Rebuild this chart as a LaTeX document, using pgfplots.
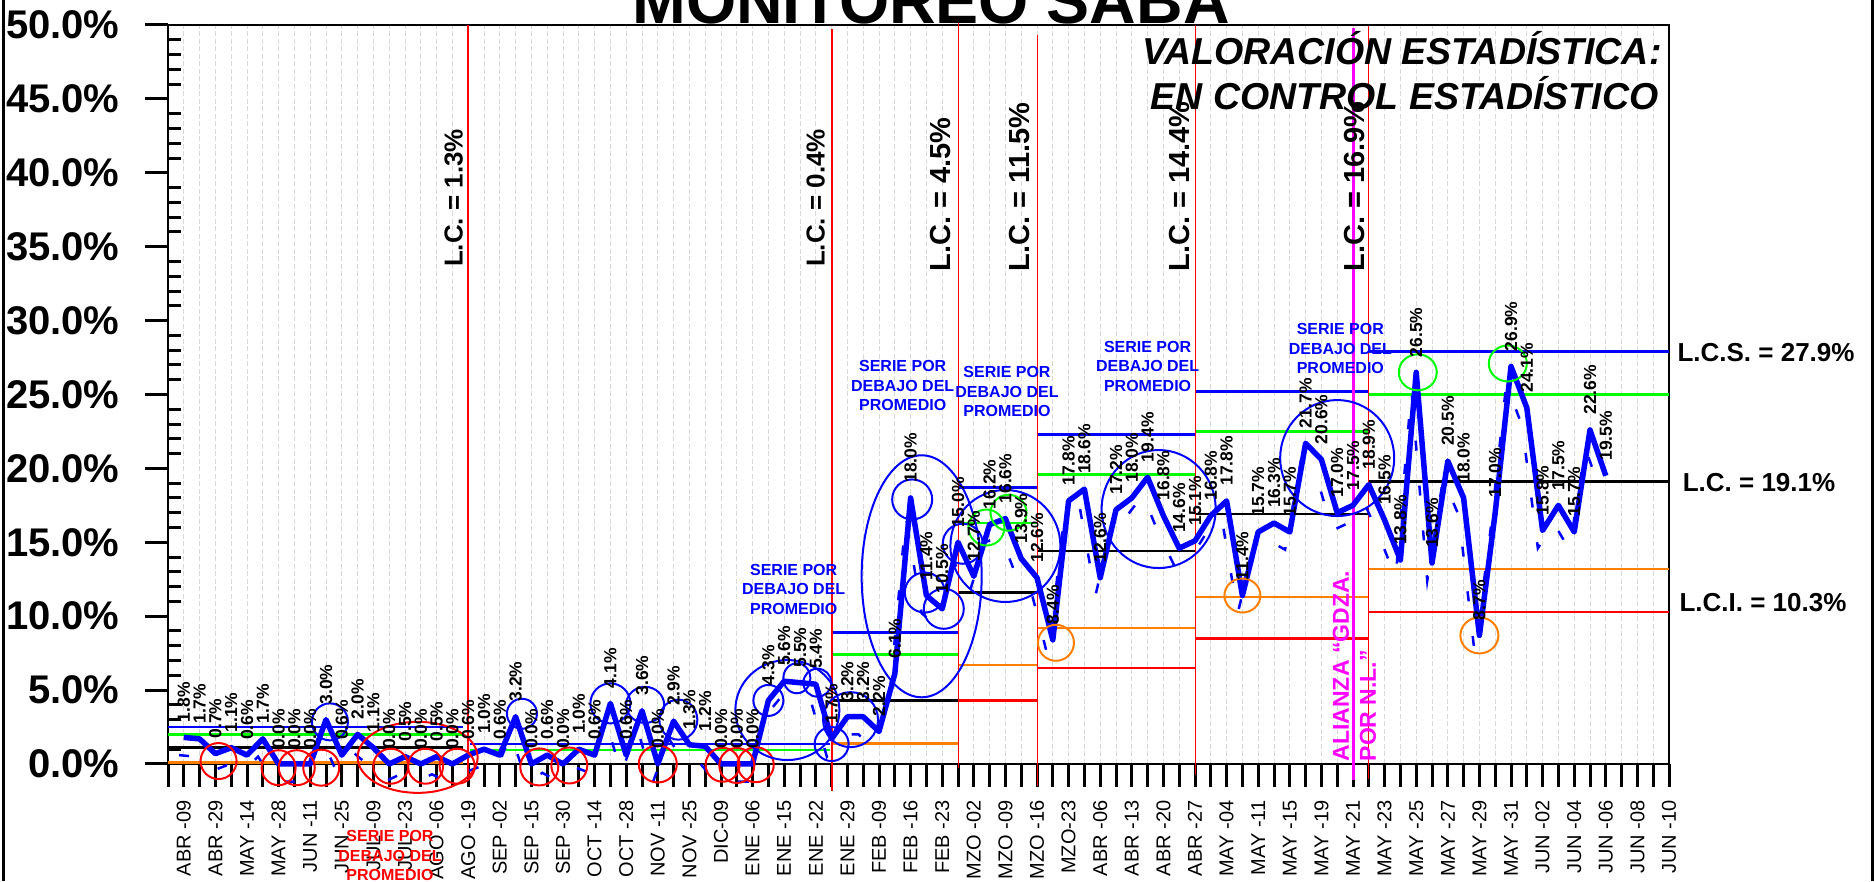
\documentclass[border=0pt]{standalone}
\usepackage{fontspec}
\setmainfont{Liberation Sans}
\usepackage{pgfplots}
\pgfplotsset{compat=1.18}
\usepackage{pgfplotstable}
\definecolor{cblue}{RGB}{0,0,255}
\definecolor{cgreen}{RGB}{0,255,0}
\definecolor{corange}{RGB}{255,128,0}
\definecolor{cred}{RGB}{255,0,0}
\definecolor{cmag}{RGB}{255,0,255}
\newcommand{\fs}[2]{\fontsize{#1}{#2}\selectfont}
\newcommand{\seg}[4]{\addplot[#1, line width=1pt] coordinates {(#2,#4) (#3,#4)};}
\newcommand{\ov}[5]{\draw[#1, line width=0.8pt] (axis cs:#2,#3) ellipse [x radius=#4pt, y radius=#5pt];}
\pgfplotstableread{
i v
1 1.8
2 1.7
3 0.7
4 1.1
5 0.6
6 1.7
7 0.0
8 0.0
9 0.0
10 3.0
11 0.6
12 2.0
13 1.1
14 0.0
15 0.5
16 0.0
17 0.5
18 0.0
19 0.6
20 1.0
21 0.6
22 3.2
23 0.0
24 0.6
25 0.0
26 1.0
27 0.6
28 4.1
29 0.6
30 3.6
31 0.0
32 2.9
33 1.3
34 1.2
35 0.0
36 0.0
37 0.0
38 4.3
39 5.6
40 5.5
41 5.4
42 1.7
43 3.2
44 3.2
45 2.2
46 6.1
47 18.0
48 11.4
49 10.5
50 15.0
51 12.7
52 16.2
53 16.6
54 13.9
55 12.6
56 8.4
57 17.8
58 18.6
59 12.6
60 17.2
61 18.0
62 19.4
63 16.8
64 14.6
65 15.1
66 16.8
67 17.8
68 11.4
69 15.7
70 16.3
71 15.7
72 21.7
73 20.6
74 17.0
75 17.5
76 18.9
77 16.5
78 13.8
79 26.5
80 13.6
81 20.5
82 18.0
83 8.7
84 17.0
85 26.9
86 24.1
87 15.8
88 17.5
89 15.7
90 22.6
91 19.5
}\datatab
\begin{document}
\begin{tikzpicture}
\begin{axis}[
  at={(67.2pt,46.8pt)}, anchor=south west,
  width=600.4pt, height=295.6pt, scale only axis,
  xmin=0, xmax=95, ymin=0, ymax=50,
  clip=false,
  axis line style={line width=1.1pt},
  tick pos=left,
  tick align=outside,
  major tick length=9.2pt, minor tick length=9.2pt,
  tick style={line width=1.2pt, black},
  xtick={1,3,...,95},
  minor xtick={0,2,...,94},
  xticklabels={ABR -09,ABR -29,MAY -14,MAY -28,JUN -11,JUN -25,JUL -09,JUL -23,AGO -06,AGO -19,SEP -02,SEP -15,SEP -30,OCT -14,OCT -28,NOV -11,NOV -25,DIC-09,ENE -06,ENE -15,ENE -22,ENE -29,FEB -09,FEB -16,FEB -23,MZO -02,MZO -09,MZO -16,MZO-23,ABR -06,ABR -13,ABR -20,ABR -27,MAY -04,MAY -11,MAY -15,MAY -19,MAY -21,MAY -23,MAY -25,MAY -27,MAY -29,MAY -31,JUN -02,JUN -04,JUN -06,JUN -08,JUN -10},
  xticklabel style={font=\fs{8pt}{9pt}, rotate=90, anchor=east, inner sep=0pt},
  xticklabel shift=5.2pt,
  ytick={0,5,...,50},
  /pgf/number format/assume math mode=true,
  yticklabel={\pgfmathprintnumber[fixed,fixed zerofill,precision=1]{\tick}\%},
  yticklabel style={font=\bfseries\fs{16pt}{17pt}, inner sep=0pt, anchor=east},
  yticklabel shift=10pt,
  xmajorgrids=true, xminorgrids=true,
  major grid style={line width=0.4pt, black!15, dash pattern=on 2pt off 1pt},
  minor grid style={line width=0.4pt, black!15, dash pattern=on 2pt off 1pt},
]
% inward minor y ticks
\pgfplotsinvokeforeach{1,2,3,4,6,7,8,9,11,12,13,14,16,17,18,19,21,22,23,24,26,27,28,29,31,32,33,34,36,37,38,39,41,42,43,44,46,47,48,49}{
  \draw[line width=1.2pt] (axis cs:0,#1) -- ++(5.2pt,0pt);
}
% control limit segments
\seg{cblue}{0}{18.7}{2.5}
\seg{cgreen}{0}{18.7}{2.0}
\seg{black}{0}{18.7}{1.1}
\seg{corange}{0}{18.7}{0.1}
\seg{cblue}{19.1}{41.9}{1.36}
\seg{cgreen}{19.1}{41.9}{0.95}
\seg{cblue}{42.1}{50}{8.9}
\seg{cgreen}{42.1}{50}{7.4}
\seg{black}{42.1}{50}{4.3}
\seg{corange}{42.1}{50}{1.4}
\seg{cblue}{50}{55}{18.7}
\seg{cgreen}{50}{55}{16.3}
\seg{black}{50}{55}{11.6}
\seg{corange}{50}{55}{6.7}
\seg{cred}{50}{55}{4.3}
\seg{cblue}{55}{65}{22.3}
\seg{cgreen}{55}{65}{19.6}
\seg{black}{55}{65}{14.4}
\seg{corange}{55}{65}{9.2}
\seg{cred}{55}{65}{6.5}
\seg{cblue}{65}{76}{25.2}
\seg{cgreen}{65}{76}{22.5}
\seg{black}{65}{76}{16.9}
\seg{corange}{65}{76}{11.3}
\seg{cred}{65}{76}{8.5}
\seg{cblue}{76}{95}{27.9}
\seg{cgreen}{76}{95}{25.0}
\seg{black}{76}{95}{19.1}
\seg{corange}{76}{95}{13.2}
\seg{cred}{76}{95}{10.3}
% vertical phase lines
\addplot[cred, line width=1pt] coordinates {(19,-0.75) (19,50)};
\addplot[cred, line width=0.8pt] coordinates {(42,-1.8) (42,49.7)};
\addplot[cred, line width=0.4pt] coordinates {(50,-0.3) (50,50.3)};
\addplot[cred, line width=0.4pt] coordinates {(55,-1.5) (55,49.3)};
\addplot[cred, line width=0.4pt] coordinates {(65,-0.75) (65,50)};
\addplot[cred, line width=0.4pt] coordinates {(76,-1.0) (76,49.9)};
\addplot[cmag, line width=1.2pt] coordinates {(75,-1.1) (75,49.8)};
% dashed shadow series
\addplot[cblue, line width=1pt, dash pattern=on 4pt off 14pt] table[x expr=\thisrow{i}-0.3, y expr=\thisrow{v}-1.2]{\datatab};
% main series
\addplot[cblue, line width=2.2pt, line join=round,
  nodes near coords={\pgfmathprintnumber[fixed,fixed zerofill,precision=1]{\pgfplotspointmeta}\%},
  nodes near coords style={font=\bfseries\fs{7pt}{8pt}, rotate=90, anchor=west, inner xsep=5pt, inner ysep=0pt, text=black}]
  table[x=i, y=v]{\datatab};
% annotation circles
\ov{cred}{3.2}{0.2}{7.2}{7.2}
\ov{cred}{7.0}{-0.25}{6.8}{7.0}
\ov{cred}{8.15}{-0.25}{7.2}{7.0}
\ov{cred}{9.7}{-0.25}{7.2}{7.2}
\ov{cred}{14.1}{-0.15}{7.0}{7.0}
\ov{cred}{16.3}{-0.15}{7.0}{7.0}
\ov{cred}{18.3}{-0.15}{7.0}{7.0}
\ov{cred}{15.8}{0.45}{24}{14.2}
\ov{cred}{23.5}{-0.2}{7.6}{7.4}
\ov{cred}{25.4}{-0.1}{7.2}{7.2}
\ov{cred}{31.0}{0.0}{7.6}{7.4}
\ov{cred}{35.1}{-0.05}{6.8}{6.8}
\ov{cred}{36.0}{-0.1}{7.0}{7.0}
\ov{cred}{37.2}{-0.05}{7.2}{7.0}
\ov{cblue}{10.25}{2.85}{7.2}{7.4}
\ov{cblue}{22.4}{3.4}{6.0}{6.0}
\ov{cblue}{28.0}{4.1}{8.0}{8.0}
\ov{cblue}{30.2}{4.0}{7.6}{7.2}
\ov{cblue}{32.3}{3.0}{7.6}{8.0}
\ov{cblue}{39.2}{3.65}{20.8}{20.0}
\ov{cblue}{38.0}{4.3}{6.0}{6.2}
\ov{cblue}{39.8}{5.8}{5.4}{6.0}
\ov{cblue}{41.1}{5.5}{5.6}{5.6}
\ov{cblue}{42.0}{1.35}{6.8}{6.8}
\ov{cblue}{43.2}{3.0}{11}{11}
\ov{cblue}{47.7}{12.7}{24}{48.4}
\ov{cblue}{47.1}{17.9}{8}{8}
\ov{cblue}{47.9}{11.6}{8}{8}
\ov{cblue}{49.1}{10.5}{8}{8}
\ov{cblue}{50.3}{14.9}{8}{8}
\ov{cblue}{53.0}{14.75}{22}{22.4}
\ov{cblue}{62.7}{17.25}{22.8}{23.6}
\ov{cblue}{74.0}{20.7}{22.8}{23.2}
\ov{cgreen}{51.8}{16.0}{7.2}{7.2}
\ov{cgreen}{53.2}{17.0}{7.2}{7.2}
\ov{cgreen}{79.1}{26.5}{7.6}{7.2}
\ov{cgreen}{84.8}{27.1}{7.6}{7.2}
\ov{corange}{56.2}{8.2}{7.2}{7.2}
\ov{corange}{68.0}{11.4}{7.2}{6.8}
\ov{corange}{83.0}{8.7}{7.6}{7.2}
% "serie por debajo del promedio" notes
\node[align=center, font=\bfseries\fs{6.4pt}{7.8pt}, text=cred, inner sep=0pt] at (axis cs:14.05,-6.2) {SERIE POR\\DEBAJO DEL\\PROMEDIO};
\node[align=center, font=\bfseries\fs{6.4pt}{7.8pt}, text=cblue, inner sep=0pt] at (axis cs:39.6,11.84) {SERIE POR\\DEBAJO DEL\\PROMEDIO};
\node[align=center, font=\bfseries\fs{6.4pt}{7.8pt}, text=cblue, inner sep=0pt] at (axis cs:46.5,25.6) {SERIE POR\\DEBAJO DEL\\PROMEDIO};
\node[align=center, font=\bfseries\fs{6.4pt}{7.8pt}, text=cblue, inner sep=0pt] at (axis cs:53.1,25.2) {SERIE POR\\DEBAJO DEL\\PROMEDIO};
\node[align=center, font=\bfseries\fs{6.4pt}{7.8pt}, text=cblue, inner sep=0pt] at (axis cs:62.0,26.9) {SERIE POR\\DEBAJO DEL\\PROMEDIO};
\node[align=center, font=\bfseries\fs{6.4pt}{7.8pt}, text=cblue, inner sep=0pt] at (axis cs:74.2,28.1) {SERIE POR\\DEBAJO DEL\\PROMEDIO};
% L.C. labels at phase changes
\node[rotate=90, anchor=south west, inner sep=0pt, font=\bfseries\fs{10.4pt}{12pt}] at (axis cs:18.7,33.6) {L.C. = 1.3\%};
\node[rotate=90, anchor=south west, inner sep=0pt, font=\bfseries\fs{10.4pt}{12pt}] at (axis cs:41.6,33.6) {L.C. = 0.4\%};
\node[rotate=90, anchor=south west, inner sep=0pt, font=\bfseries\fs{11.6pt}{13pt}] at (axis cs:49.55,33.3) {L.C. = 4.5\%};
\node[rotate=90, anchor=south west, inner sep=0pt, font=\bfseries\fs{11.6pt}{13pt}] at (axis cs:54.55,33.3) {L.C. = 11.5\%};
\node[rotate=90, anchor=south west, inner sep=0pt, font=\bfseries\fs{11.6pt}{13pt}] at (axis cs:64.7,33.3) {L.C. = 14.4\%};
\node[rotate=90, anchor=south west, inner sep=0pt, font=\bfseries\fs{11.6pt}{13pt}] at (axis cs:75.8,33.3) {L.C. = 16.9\%};
% alliance note
\node[rotate=90, anchor=south west, align=left, inner sep=0pt, font=\bfseries\fs{9.2pt}{10.8pt}, text=cmag] at (axis cs:76.5,0.15) {ALIANZA “GDZA.\\POR N.L.”};
\end{axis}
\begin{scope}[x=0.4pt, y=0.4pt]
\node[anchor=base, inner sep=0pt, font=\bfseries\fs{25.8pt}{27pt}] at (931,857) {MONITOREO SABA};
\node[anchor=base east, inner sep=0pt, font=\bfseries\itshape\fs{15pt}{17pt}] at (1662,816) {VALORACIÓN ESTADÍSTICA:};
\node[anchor=base east, inner sep=0pt, font=\bfseries\itshape\fs{15pt}{17pt}] at (1659,771) {EN CONTROL ESTADÍSTICO};
\node[inner sep=0pt, font=\bfseries\fs{10.4pt}{12pt}] at (1766,528) {L.C.S. = 27.9\%};
\node[inner sep=0pt, font=\bfseries\fs{10.4pt}{12pt}] at (1759,398) {L.C. = 19.1\%};
\node[inner sep=0pt, font=\bfseries\fs{10.4pt}{12pt}] at (1763,278) {L.C.I. = 10.3\%};
\draw[line width=1.2pt] (3.5,0) -- (3.5,881);
\draw[line width=1.2pt] (1872,0) -- (1872,881);
\pgfresetboundingbox
\useasboundingbox (0,0) rectangle (1875,881);
\end{scope}
\end{tikzpicture}
\end{document}
